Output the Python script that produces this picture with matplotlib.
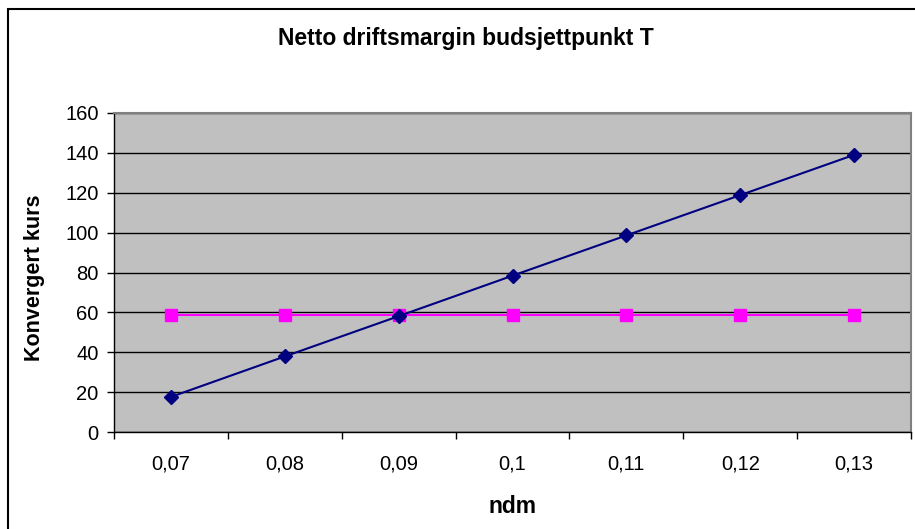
import matplotlib
matplotlib.use("Agg")
import matplotlib.pyplot as plt
from matplotlib.patches import Rectangle

categories = ["0,07", "0,08", "0,09", "0,1", "0,11", "0,12", "0,13"]
series_ndm = [17.6, 37.9, 58.1, 78.4, 98.6, 118.8, 139.0]
series_flat = [58.6, 58.6, 58.6, 58.6, 58.6, 58.6, 58.6]
y_ticks = [0, 20, 40, 60, 80, 100, 120, 140, 160]

plt.rcParams['font.family'] = ['Liberation Sans', 'DejaVu Sans']

W, H = 915, 529
fig = plt.figure(figsize=(W / 100, H / 100), dpi=100)
fig.patch.set_facecolor("white")

# outer chart border (extends past right/bottom)
fig.patches.append(Rectangle((8 / W, -0.05), 1.1, 1 - 9 / H + 0.05,
                             transform=fig.transFigure, fill=False,
                             edgecolor="black", linewidth=1.5, zorder=0))

ax = fig.add_axes([114 / W, 1 - 432 / H, (911 - 114) / W, (432 - 113) / H])
ax.set_facecolor("#C0C0C0")

x = list(range(len(categories)))
ax.plot(x, series_flat, color="#FF00FF", linewidth=1.5, marker="s",
        markersize=8, markerfacecolor="#FF00FF", markeredgecolor="#FF00FF",
        zorder=3)
ax.plot(x, series_ndm, color="#000080", linewidth=1.5, marker="D",
        markersize=7.5, markerfacecolor="#000080", markeredgecolor="#000080",
        zorder=4)

ax.set_xlim(-0.5, len(categories) - 0.5)
ax.set_ylim(0, 160)
ax.set_yticks(y_ticks)
ax.set_yticklabels([str(v) for v in y_ticks], fontsize=14.5)
ax.yaxis.grid(True, color="black", linewidth=1)
ax.set_axisbelow(True)

ax.set_xticks([i - 0.5 for i in range(len(categories) + 1)])
ax.set_xticklabels([])
ax.set_xticks(x, minor=True)
ax.set_xticklabels(categories, minor=True, fontsize=14.5)
ax.tick_params(axis="x", which="minor", length=0, pad=16)
ax.tick_params(axis="x", which="major", length=5, direction="out", width=1)
ax.tick_params(axis="y", length=5, direction="out", width=1, pad=6)

for side in ["top", "right"]:
    ax.spines[side].set_color("#808080")
    ax.spines[side].set_linewidth(1.5)
for side in ["left", "bottom"]:
    ax.spines[side].set_color("black")
    ax.spines[side].set_linewidth(1)

fig.text(512.5 / W, 1 - 513 / H, "ndm", ha="center", va="baseline",
         fontsize=16.5, fontweight="bold")
fig.text(34.5 / W, 1 - 278 / H, "Konvergert kurs", ha="center", va="center",
         rotation=90, fontsize=15.5, fontweight="bold")
fig.text(465.5 / W, 1 - 45 / H, "Netto driftsmargin budsjettpunkt T",
         ha="center", va="baseline", fontsize=16.5, fontweight="bold")

fig.savefig("out.png", dpi=100)
